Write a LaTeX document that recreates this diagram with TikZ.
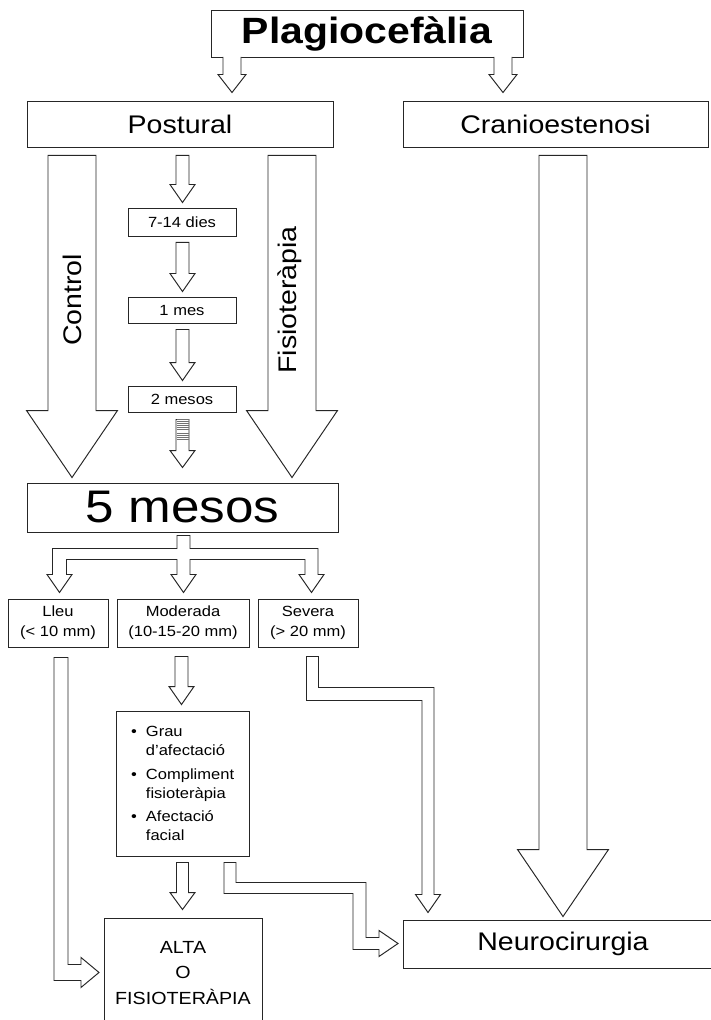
\documentclass[tikz,border=0pt]{standalone}
\usepackage{fontspec}
\setmainfont[FakeStretch=1.12]{Liberation Sans}
\usetikzlibrary{calc}

\newcommand{\pxu}{0.02cm}
\newcommand{\bigtxt}{\fontsize{14.5}{17}\selectfont}
\newcommand{\smalltxt}{\fontsize{8.4}{11.3}\selectfont}

% closed block arrow: top, tip, half shaft, half head, head length
\newcommand{\vblock}[5]{%
  \draw[blockarrow] ($(#1)+(-#3,0)$) -- ($(#2)+(-#3,-#5)$) -- ($(#2)+(-#4,-#5)$) -- (#2)
    -- ($(#2)+(#4,-#5)$) -- ($(#2)+(#3,-#5)$) -- ($(#1)+(#3,0)$) -- cycle;}
% same, open at the top (joined to the box above)
\newcommand{\vblockopen}[5]{%
  \fill[white] ($(#1)+(-#3,0)$) -- ($(#2)+(-#3,-#5)$) -- ($(#2)+(-#4,-#5)$) -- (#2)
    -- ($(#2)+(#4,-#5)$) -- ($(#2)+(#3,-#5)$) -- ($(#1)+(#3,0)$) -- cycle;
  \draw[blockline] ($(#1)+(-#3,0)$) -- ($(#2)+(-#3,-#5)$) -- ($(#2)+(-#4,-#5)$) -- (#2)
    -- ($(#2)+(#4,-#5)$) -- ($(#2)+(#3,-#5)$) -- ($(#1)+(#3,0)$);}

\tikzset{
  box/.style={draw=black!85, line width=0.55pt, inner sep=0pt, align=center},
  blockarrow/.style={draw=black!85, line width=0.55pt, fill=white, line join=miter},
  blockline/.style={draw=black!85, line width=0.55pt, line join=miter},
  stripe/.style={draw=black!55, line width=0.8pt},
}

\begin{document}
\begin{tikzpicture}[x=0.02cm, y=-0.02cm]
\useasboundingbox (0,0) rectangle (710,1020);

	\node[box, minimum width=312*\pxu, minimum height=47*\pxu, font=\bfseries\fontsize{20.8}{24}\selectfont] (plag) at (367,33.5) {Plagiocefàlia};
	\node[box, minimum width=306*\pxu, minimum height=46*\pxu, font=\bigtxt] (post) at (180,124) {Postural};
	\node[box, minimum width=305*\pxu, minimum height=46*\pxu, font=\bigtxt] (cran) at (555.5,124) {Cranioestenosi};

	\node[box, minimum width=108*\pxu, minimum height=28*\pxu, font=\smalltxt] (d7) at (182,222) {7-14 dies};
	\node[box, minimum width=108*\pxu, minimum height=26*\pxu, font=\smalltxt] (m1) at (182,310) {1 mes};
	\node[box, minimum width=108*\pxu, minimum height=26*\pxu, font=\smalltxt] (m2) at (182,399) {2 mesos};

	\node[box, minimum width=311*\pxu, minimum height=49*\pxu, font=\fontsize{26}{30}\selectfont] (five) at (182.5,507.5) {5 mesos};

	\node[box, minimum width=100*\pxu, minimum height=48*\pxu, font=\smalltxt] (lleu) at (58,623) {Lleu\\(< 10 mm)};
	\node[box, minimum width=132*\pxu, minimum height=48*\pxu, font=\smalltxt] (mod) at (183,623) {Moderada\\(10-15-20 mm)};
	\node[box, minimum width=100*\pxu, minimum height=48*\pxu, font=\smalltxt] (sev) at (308,623) {Severa\\(> 20 mm)};

	\node[box, align=left, text width=103*\pxu, inner xsep=15*\pxu, minimum height=145*\pxu, font=\fontsize{8.4}{10.8}\selectfont] (crit) at (182.5,783.5)
		{\makebox[8.5pt][l]{\textbullet}Grau\\ \hspace*{8.5pt}d’afectació\\[2.8pt]
		 \makebox[8.5pt][l]{\textbullet}Compliment\\ \hspace*{8.5pt}fisioteràpia\\[2.8pt]
		 \makebox[8.5pt][l]{\textbullet}Afectació\\ \hspace*{8.5pt}facial};

	\node[box, minimum width=158*\pxu, minimum height=110*\pxu, font=\fontsize{10}{14.7}\selectfont] (alta) at (183,973) {ALTA\\O\\FISIOTERÀPIA};
	\node[box, minimum width=320*\pxu, minimum height=48*\pxu, font=\bigtxt] (neuro) at (563,944) {Neurocirurgia};

	% from Plagiocefalia
	\coordinate (a1s) at ($(plag.south)+(-135,-0.6)$);
	\coordinate (a1t) at ($(a1s |- post.north)+(0,-8)$);
	\coordinate (a2s) at ($(plag.south)+(136,-0.6)$);
	\coordinate (a2t) at ($(a2s |- cran.north)+(0,-8)$);
	\vblockopen{a1s}{a1t}{9}{14}{18}
	\vblockopen{a2s}{a2t}{9}{14}{18}

	% big arrows
	\coordinate (cs) at ($(post.south)+(-108,8)$);
	\coordinate (ct) at ($(cs |- five.north)+(0,-5)$);
	\coordinate (fs) at ($(post.south)+(112,8)$);
	\coordinate (ft) at ($(fs |- five.north)+(0,-5)$);
	\coordinate (ks) at ($(cran.south)+(7.5,8)$);
	\coordinate (kt) at ($(ks |- neuro.north)+(0,-3)$);
	\vblock{cs}{ct}{24}{45.5}{67}
	\vblock{fs}{ft}{24}{45.5}{67}
	\vblock{ks}{kt}{24}{45.5}{67}
	\node[rotate=90, font=\bigtxt] (ctrl) at (72,300) {Control};
	\node[rotate=90, font=\bigtxt] (fisio) at (290,300) {Fisioteràpia};

	% timeline
	\coordinate (t0s) at ($(post.south)+(2.5,8)$);
	\coordinate (t0t) at ($(t0s |- d7.north)+(0,-5)$);
	\coordinate (t1s) at ($(d7.south)+(0.5,6)$);
	\coordinate (t1t) at ($(t1s |- m1.north)+(0,-5)$);
	\coordinate (t2s) at ($(m1.south)+(0.5,6)$);
	\coordinate (t2t) at ($(t2s |- m2.north)+(0,-5)$);
	\coordinate (t3s) at ($(m2.south)+(0.5,7)$);
	\coordinate (t3t) at ($(t3s |- five.north)+(0,-15)$);
	\vblock{t0s}{t0t}{6.5}{12.5}{18}
	\vblock{t1s}{t1t}{6.5}{12.5}{18}
	\vblock{t2s}{t2t}{6.5}{12.5}{18}
	\vblock{t3s}{t3t}{6.5}{12.5}{17}
	\foreach \dy in {0,2,4,6,8,10,14,16,18,20}
		\draw[stripe] ($(t3s)+(-6,\dy)$) -- ++(12,0);

	% from 5 mesos
	\coordinate (ds) at ($(five.south)+(1,3)$);
	\draw[blockarrow] ($(ds)+(-6.5,0)$) -- ++(0,13) -- ++(-124.5,0) -- ++(0,26) -- ++(-5.5,0)
		-- ++(12.5,18) -- ++(12.5,-18) -- ++(-5.5,0) -- ++(0,-15) -- ++(110.5,0) -- ++(0,15)
		-- ++(-6,0) -- ++(12.5,18) -- ++(12.5,-18) -- ++(-6,0) -- ++(0,-15) -- ++(115,0)
		-- ++(0,15) -- ++(-6,0) -- ++(12.5,18) -- ++(12.5,-18) -- ++(-6,0) -- ++(0,-26)
		-- ++(-128,0) -- ++(0,-13) -- cycle;

	% Lleu
	\coordinate (ls) at ($(lleu.south)+(3,10)$);
	\draw[blockarrow] ($(ls)+(-7,0)$) -- ++(0,323) -- ++(27,0) -- ++(0,7) -- ++(18,-15)
		-- ++(-18,-15) -- ++(0,7) -- ++(-13,0) -- ++(0,-307) -- cycle;

	% Moderada
	\coordinate (ms) at ($(mod.south)+(-1.5,9)$);
	\coordinate (mt) at ($(ms |- crit.north)+(0,-6)$);
	\vblock{ms}{mt}{6.5}{12.5}{18}
	\coordinate (qs) at ($(crit.south)+(0,6)$);
	\coordinate (qt) at ($(qs |- alta.north)+(0,-8)$);
	\vblock{qs}{qt}{6}{12.5}{17}
	\coordinate (ns) at ($(crit.south)+(47.5,6)$);
	\draw[blockarrow] ($(ns)+(-6,0)$) -- ++(0,31) -- ++(129,0) -- ++(0,56) -- ++(26,0) -- ++(0,7)
		-- ++(19,-13) -- ++(-19,-13) -- ++(0,7) -- ++(-13,0) -- ++(0,-55) -- ++(-130,0)
		-- ++(0,-20) -- cycle;

	% Severa
	\coordinate (ss) at ($(sev.south)+(4.5,9)$);
	\draw[blockarrow] ($(ss)+(-6,0)$) -- ++(0,44) -- ++(115.5,0) -- ++(0,194) -- ++(-6.5,0)
		-- ++(12.5,18) -- ++(12.5,-18) -- ++(-6.5,0) -- ++(0,-207) -- ++(-115.5,0)
		-- ++(0,-31) -- cycle;
\end{tikzpicture}
\end{document}
